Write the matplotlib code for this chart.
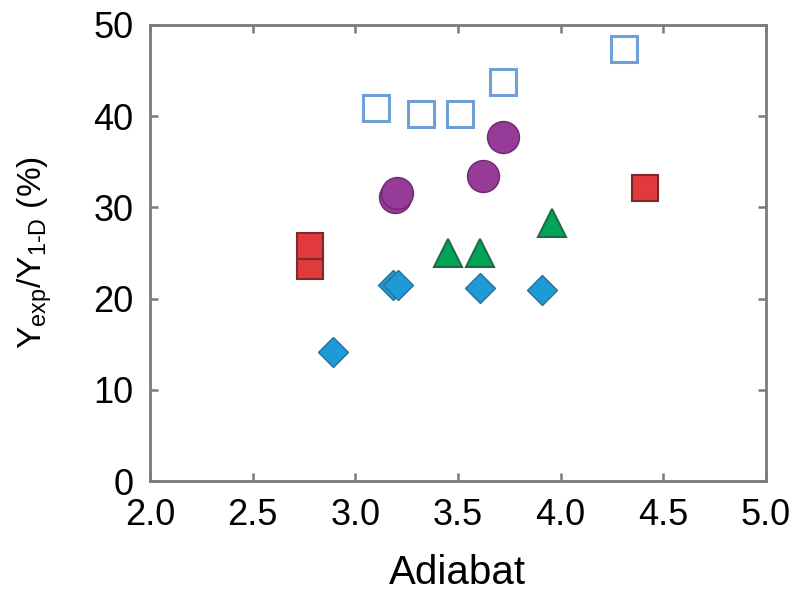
import matplotlib
matplotlib.use("Agg")
from matplotlib import pyplot as plt

# data (adiabat vs yield ratio, %)
blue_x = [2.89, 3.185, 3.21, 3.61, 3.91]
blue_y = [14.1, 21.5, 21.5, 21.2, 20.9]

red_x = [2.78, 2.78, 4.41]
red_y = [23.6, 25.8, 32.1]

green_x = [3.45, 3.61, 3.96]
green_y = [25.0, 25.0, 28.3]

purple_x = [3.195, 3.205, 3.62, 3.72]
purple_y = [31.1, 31.6, 33.4, 37.7]

open_x = [3.10, 3.32, 3.51, 3.72, 4.31]
open_y = [40.9, 40.2, 40.2, 43.7, 47.4]

x_ticks = [2.0, 2.5, 3.0, 3.5, 4.0, 4.5, 5.0]
y_ticks = [0, 10, 20, 30, 40, 50]

plt.rcParams['font.family'] = ['Liberation Sans', 'DejaVu Sans']
plt.rcParams['mathtext.fontset'] = 'custom'
plt.rcParams['mathtext.rm'] = 'Liberation Sans'

fig = plt.figure(figsize=(7.97, 5.94), dpi=100)
ax = fig.add_axes([0.188, 0.19, 0.773, 0.768])

ax.plot(open_x, open_y, 's', ms=19, mfc='white', mec='#6f9fd4', mew=2.2, ls='none')
ax.plot(purple_x, purple_y, 'o', ms=23, mfc='#973b98', mec='#6a2a6b', mew=1.0, ls='none')
ax.plot(green_x, green_y, '^', ms=20, mfc='#00a55a', mec='#1d6b46', mew=1.5, ls='none')
ax.plot(red_x, red_y, 's', ms=19, mfc='#e03a3c', mec='#7a2a2a', mew=1.5, ls='none')
ax.plot(blue_x, blue_y, 'D', ms=15, mfc='#1e9ad6', mec='#2a6f95', mew=1.0, ls='none')

ax.set_xlim(2.0, 5.0)
ax.set_ylim(0, 50)
ax.set_xticks(x_ticks)
ax.set_yticks(y_ticks)
ax.set_xticklabels(['%.1f' % v for v in x_ticks])

for s in ax.spines.values():
    s.set_color('#7a7a7a')
    s.set_linewidth(2.0)
ax.tick_params(direction='in', top=True, right=True, length=6, width=1.8,
               color='#7a7a7a', labelsize=26, pad=12)

ax.set_xlabel('Adiabat', fontsize=29, labelpad=15)
ax.set_ylabel(r'Y$_\mathregular{exp}$/Y$_\mathregular{1\text{-}D}$ (%)', fontsize=24, labelpad=28)

fig.savefig('out.png', dpi=100)
